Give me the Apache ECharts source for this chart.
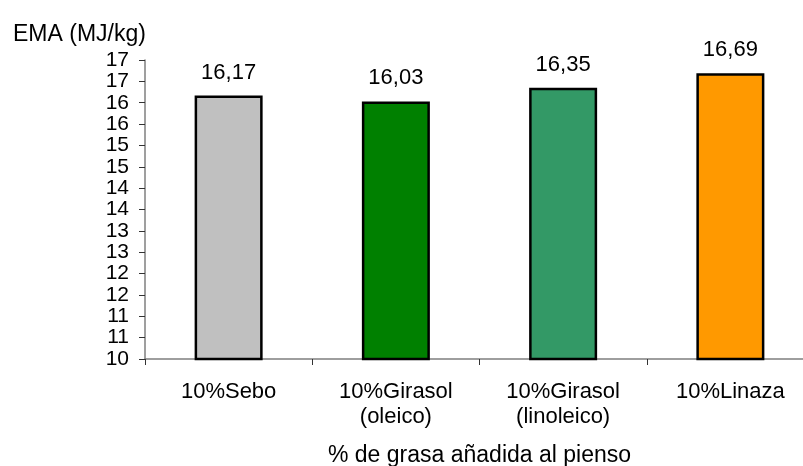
<!DOCTYPE html>
<html>
<head>
<meta charset="utf-8">
<script src="https://cdn.jsdelivr.net/npm/echarts@6/dist/echarts.min.js"></script>
<style>
  html, body { margin: 0; padding: 0; background: #ffffff; }
  #chart { width: 803px; height: 466px; }
</style>
</head>
<body>
<div id="chart"></div>
<script>
// Energía metabolizable aparente según la grasa añadida al pienso
const categories = ['10%Sebo', '10%Girasol\n(oleico)', '10%Girasol\n(linoleico)', '10%Linaza'];
const values = [16.17, 16.03, 16.35, 16.69];
const barColors = ['#C0C0C0', '#008000', '#339966', '#FF9900'];
const yMin = 10;
const yMax = 17;
const yStep = 0.5;

const FONT = '"Liberation Sans", Arial, sans-serif';
const axisGrey = '#7f7f7f';

const chart = echarts.init(document.getElementById('chart'), null, { renderer: 'canvas' });

chart.setOption({
  animation: false,
  backgroundColor: '#ffffff',
  title: {
    text: 'EMA (MJ/kg)',
    left: 13,
    top: 23,
    padding: 0,
    textStyle: { fontFamily: FONT, fontSize: 23, fontWeight: 'normal', color: '#000' }
  },
  // plot area runs past the right edge of the canvas
  grid: { left: 145, top: 60, width: 669, bottom: 107, containLabel: false, outerBoundsMode: 'none' },
  xAxis: {
    type: 'category',
    data: categories,
    name: '% de grasa añadida al pienso',
    nameLocation: 'middle',
    nameGap: 85,
    nameTextStyle: { fontFamily: FONT, fontSize: 23, color: '#000' },
    axisLine: { show: true, lineStyle: { color: axisGrey, width: 1.5 } },
    axisTick: { show: true, length: 6, alignWithLabel: false, lineStyle: { color: '#333', width: 1 } },
    axisLabel: {
      fontFamily: FONT, fontSize: 22, color: '#000', margin: 20, lineHeight: 25, interval: 0
    },
    splitLine: { show: false }
  },
  yAxis: {
    type: 'value',
    min: yMin,
    max: yMax,
    interval: yStep,
    axisLine: { show: true, lineStyle: { color: axisGrey, width: 1.5 } },
    axisTick: { show: true, length: 6, lineStyle: { color: '#333', width: 1 } },
    axisLabel: {
      fontFamily: FONT, fontSize: 21, color: '#000', margin: 16,
      formatter: v => String(Math.round(v))
    },
    splitLine: { show: false }
  },
  series: [{
    type: 'bar',
    data: values.map((v, i) => ({ value: v, itemStyle: { color: barColors[i] } })),
    barWidth: 68,
    itemStyle: { borderColor: '#000', borderWidth: 2.5 },
    label: {
      show: true,
      position: 'top',
      distance: 12,
      fontFamily: FONT,
      fontSize: 22,
      color: '#000',
      formatter: p => p.value.toFixed(2).replace('.', ',')
    }
  }]
});
</script>
</body>
</html>
